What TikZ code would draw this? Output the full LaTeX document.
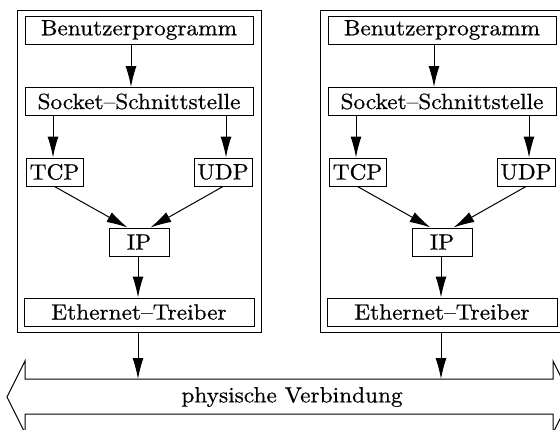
\documentclass[tikz,border=0pt]{standalone}
\usepackage{fontspec}
\setmainfont{lmroman10-regular.otf}[FakeStretch=1.06,FakeBold=0.6]
\usetikzlibrary{arrows.meta}
\begin{document}
\begin{tikzpicture}[x=1pt,y=-1pt,
  box/.style={draw,line width=1pt,inner sep=0pt,minimum height=28pt,font=\fontsize{22}{25}\selectfont},
  frame/.style={draw,line width=1pt},
  arr/.style={line width=1pt,-{Latex[length=21pt,width=11pt]}},
  ln/.style={line width=1pt}]
\useasboundingbox (0,0) rectangle (560,429);
\foreach \o/\s in {0/a,303/b}{
  \begin{scope}[xshift=\o]
  \draw[frame] (17,10) rectangle (261,332);
  \node[box,minimum width=228pt] (ben\s) at (139,30) {Benutzerprogramm};
  \node[box,minimum width=228pt] (soc\s) at (139,101.5) {Socket--Schnittstelle};
  \node[box,minimum width=57pt] (tcp\s) at (54.5,172) {TCP};
  \node[box,minimum width=58pt] (udp\s) at (223,172) {UDP};
  \node[box,minimum width=60pt] (ip\s) at (139,242) {IP};
  \node[box,minimum width=230pt] (eth\s) at (139,312) {Ethernet--Treiber};
  \coordinate (fb\s) at (138,332);
  \coordinate (st\s) at (138,379);
  \draw[arr] (ben\s.south -| 131,0) -- (soc\s.north -| 131,0);
  \draw[arr] (soc\s.south -| 53,0) -- (tcp\s.north -| 53,0);
  \draw[arr] (soc\s.south -| 226,0) -- (udp\s.north -| 226,0);
  \draw[arr] (tcp\s.south) -- ([xshift=19pt]ip\s.north west);
  \draw[arr] (udp\s.south) -- ([xshift=-19pt]ip\s.north east);
  \draw[arr] (ip\s.south -| 138,0) -- (eth\s.north -| 138,0);
  \draw[arr] (fb\s) -- (st\s);
  \end{scope}
}
\draw[ln] (7,397) -- (25,361) -- (25,379) -- (553,379) -- (553,361) -- (571,397)
  -- (553,433) -- (553,414) -- (25,414) -- (25,433) -- cycle;
\node[font=\fontsize{22}{25}\selectfont] (phys) at (292,397) {physische Verbindung};
\end{tikzpicture}
\end{document}
